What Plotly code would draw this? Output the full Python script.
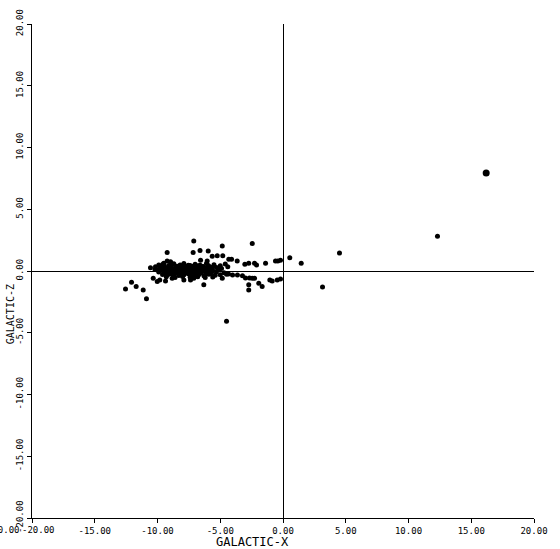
import plotly.graph_objects as go

# Sparse stars (galactic X, galactic Z)
sparse_x = [-7.11, -4.84, -2.45, -9.23, -7.16, -6.61, -5.96, -5.24, -4.80, -5.64,
            -4.32, -4.10, -3.65, -3.04, -2.73, -2.27, -2.11, -1.39, -0.60, -0.41,
            -0.20, 0.54, 1.45, 4.50, 12.31, 3.15, -4.50, -4.34, -4.02, -3.63,
            -3.23, -2.99, -2.67, -2.45, -2.27, -1.93, -1.66, -1.05, -0.86, -0.46,
            -0.20, -2.73, -2.73, -6.31, -4.84, -12.55, -12.07, -11.70, -11.14, -10.88,
            -10.34, -10.02, -9.82, -9.36, -8.83, -7.90, -7.37, -7.11, -10.56, -10.16,
            -10.02, -9.90, -9.50, -9.23, -8.96, -6.57, -6.04]
sparse_z = [2.43, 2.03, 2.22, 1.49, 1.49, 1.65, 1.61, 1.23, 1.23, 1.20,
            0.96, 0.96, 0.80, 0.54, 0.62, 0.62, 0.48, 0.62, 0.80, 0.80,
            0.88, 1.07, 0.62, 1.45, 2.81, -1.29, -4.07, -0.24, -0.32, -0.32,
            -0.38, -0.56, -0.56, -0.59, -0.59, -0.99, -1.26, -0.72, -0.80, -0.72,
            -0.64, -1.12, -1.53, -1.12, -0.59, -1.45, -0.91, -1.26, -1.53, -2.25,
            -0.59, -0.86, -0.72, -0.80, -0.59, -0.72, -0.72, -0.59, 0.27, 0.35,
            0.08, 0.48, 0.62, 0.80, 0.75, 0.88, 0.80]

# Dense core of the distribution
core_x = [-9.6, -9.1, -8.7, -8.2, -7.9, -7.4, -7.0, -6.6, -6.1, -5.5, -5.0, -4.6,
          -9.8, -9.4, -9.0, -8.6, -8.3, -8.0, -7.7, -7.3, -6.9, -6.5, -6.2, -5.8, -5.3, -4.9, -4.4,
          -10.2, -9.7, -9.3, -8.9, -8.5, -8.1, -7.8, -7.5, -7.1, -6.8, -6.4, -6.0, -5.6, -5.1,
          -9.9, -9.5, -9.2, -8.8, -8.4, -8.0, -7.6, -7.2, -6.9, -6.5, -6.1, -5.7, -5.3, -4.7,
          -9.6, -9.2, -8.7, -8.3, -7.9, -7.5, -7.1, -6.7, -6.3, -5.9, -5.4, -5.0, -4.5,
          -9.3, -8.6, -8.0, -7.4, -6.8, -6.2, -5.6,
          -9.45, -8.95, -8.45, -7.95, -7.55, -7.15, -6.75, -6.35, -5.95,
          -9.55, -9.15, -8.75, -8.35, -7.95, -7.6, -7.25, -6.85, -6.45, -6.05, -5.65,
          -9.45, -9.0, -8.6, -8.2, -7.85, -7.4, -7.0, -6.6, -6.25, -5.85,
          -9.35, -8.95, -8.55, -8.15, -7.75, -7.35, -6.95, -6.55, -6.15, -5.75]
core_z = [0.52, 0.45, 0.58, 0.49, 0.61, 0.44, 0.55, 0.47, 0.60, 0.51, 0.42, 0.56,
          0.31, 0.27, 0.35, 0.24, 0.33, 0.29, 0.37, 0.22, 0.30, 0.36, 0.25, 0.32, 0.28, 0.21, 0.34,
          0.12, 0.08, 0.15, 0.05, 0.11, 0.17, 0.04, 0.13, 0.09, 0.16, 0.06, 0.12, 0.03, 0.10,
          -0.08, -0.13, -0.05, -0.15, -0.09, -0.04, -0.14, -0.07, -0.12, -0.03, -0.16, -0.10, -0.06, -0.14,
          -0.28, -0.33, -0.25, -0.36, -0.30, -0.24, -0.35, -0.29, -0.38, -0.26, -0.34, -0.31, -0.27,
          -0.47, -0.52, -0.44, -0.50, -0.46, -0.53, -0.48,
          0.40, 0.43, 0.38, 0.41, 0.46, 0.39, 0.42, 0.37, 0.44,
          0.19, 0.21, 0.18, 0.20, 0.23, 0.17, 0.22, 0.19, 0.20, 0.18, 0.21,
          0.00, -0.02, 0.01, 0.02, -0.01, 0.00, 0.03, -0.02, 0.01, -0.01,
          -0.20, -0.22, -0.18, -0.21, -0.19, -0.23, -0.20, -0.17, -0.22, -0.19]

# Large outlying point
big_x = [16.19]
big_z = [7.93]

tick_vals = [-20, -15, -10, -5, 0, 5, 10, 15, 20]
tick_text = ["-20.00", "-15.00", "-10.00", "-5.00", "0.00", "5.00", "10.00", "15.00", "20.00"]

FONT = "DejaVu Sans Mono"

fig = go.Figure()
fig.add_trace(go.Scatter(x=core_x + sparse_x, y=core_z + sparse_z, mode="markers",
                         marker=dict(color="black", size=5, line=dict(width=0)),
                         showlegend=False, hoverinfo="x+y"))
fig.add_trace(go.Scatter(x=big_x, y=big_z, mode="markers",
                         marker=dict(color="black", size=7, line=dict(width=0)),
                         showlegend=False, hoverinfo="x+y"))

axis_common = dict(range=[-20, 20], tickvals=tick_vals,
                   showgrid=False, showline=True, linecolor="black", linewidth=1.3,
                   ticks="outside", ticklen=4, tickwidth=1.3, tickcolor="black",
                   zeroline=True, zerolinecolor="black", zerolinewidth=1.3,
                   tickfont=dict(family=FONT, size=9, color="black"),
                   mirror=False, fixedrange=True, automargin=False)

# first x label is drawn as an annotation (shifted right of its tick, as in the original)
x_ticktext = [""] + tick_text[1:]

fig.update_layout(
    width=560, height=549,
    margin=dict(l=32, r=26, t=24, b=31),
    paper_bgcolor="white", plot_bgcolor="white",
    xaxis=dict(**axis_common, ticktext=x_ticktext),
    yaxis=dict(**axis_common, ticktext=tick_text, tickangle=-90),
    annotations=[
        dict(text="GALACTIC-X", xref="paper", yref="paper", x=0.44, y=0,
             yshift=-24, xanchor="center", yanchor="middle", showarrow=False,
             font=dict(family=FONT, size=12, color="black")),
        dict(text="GALACTIC-Z", xref="paper", yref="y", x=0, y=-3.5,
             xshift=-22, textangle=-90, xanchor="center", yanchor="middle",
             showarrow=False, font=dict(family=FONT, size=10, color="black")),
        dict(text=tick_text[0], xref="x", yref="paper", x=tick_vals[0], y=0,
             xshift=-12, yshift=-12, xanchor="left", yanchor="middle",
             showarrow=False, font=dict(family=FONT, size=9, color="black")),
        dict(text=tick_text[0], xref="paper", yref="paper", x=0, y=0,
             xshift=-10, yshift=-12, xanchor="right", yanchor="middle",
             showarrow=False, font=dict(family=FONT, size=9, color="black")),
    ],
)

fig.write_html("out.html", config={"displayModeBar": False},
               post_script="document.body.style.margin='0';document.body.style.overflow='hidden';")
